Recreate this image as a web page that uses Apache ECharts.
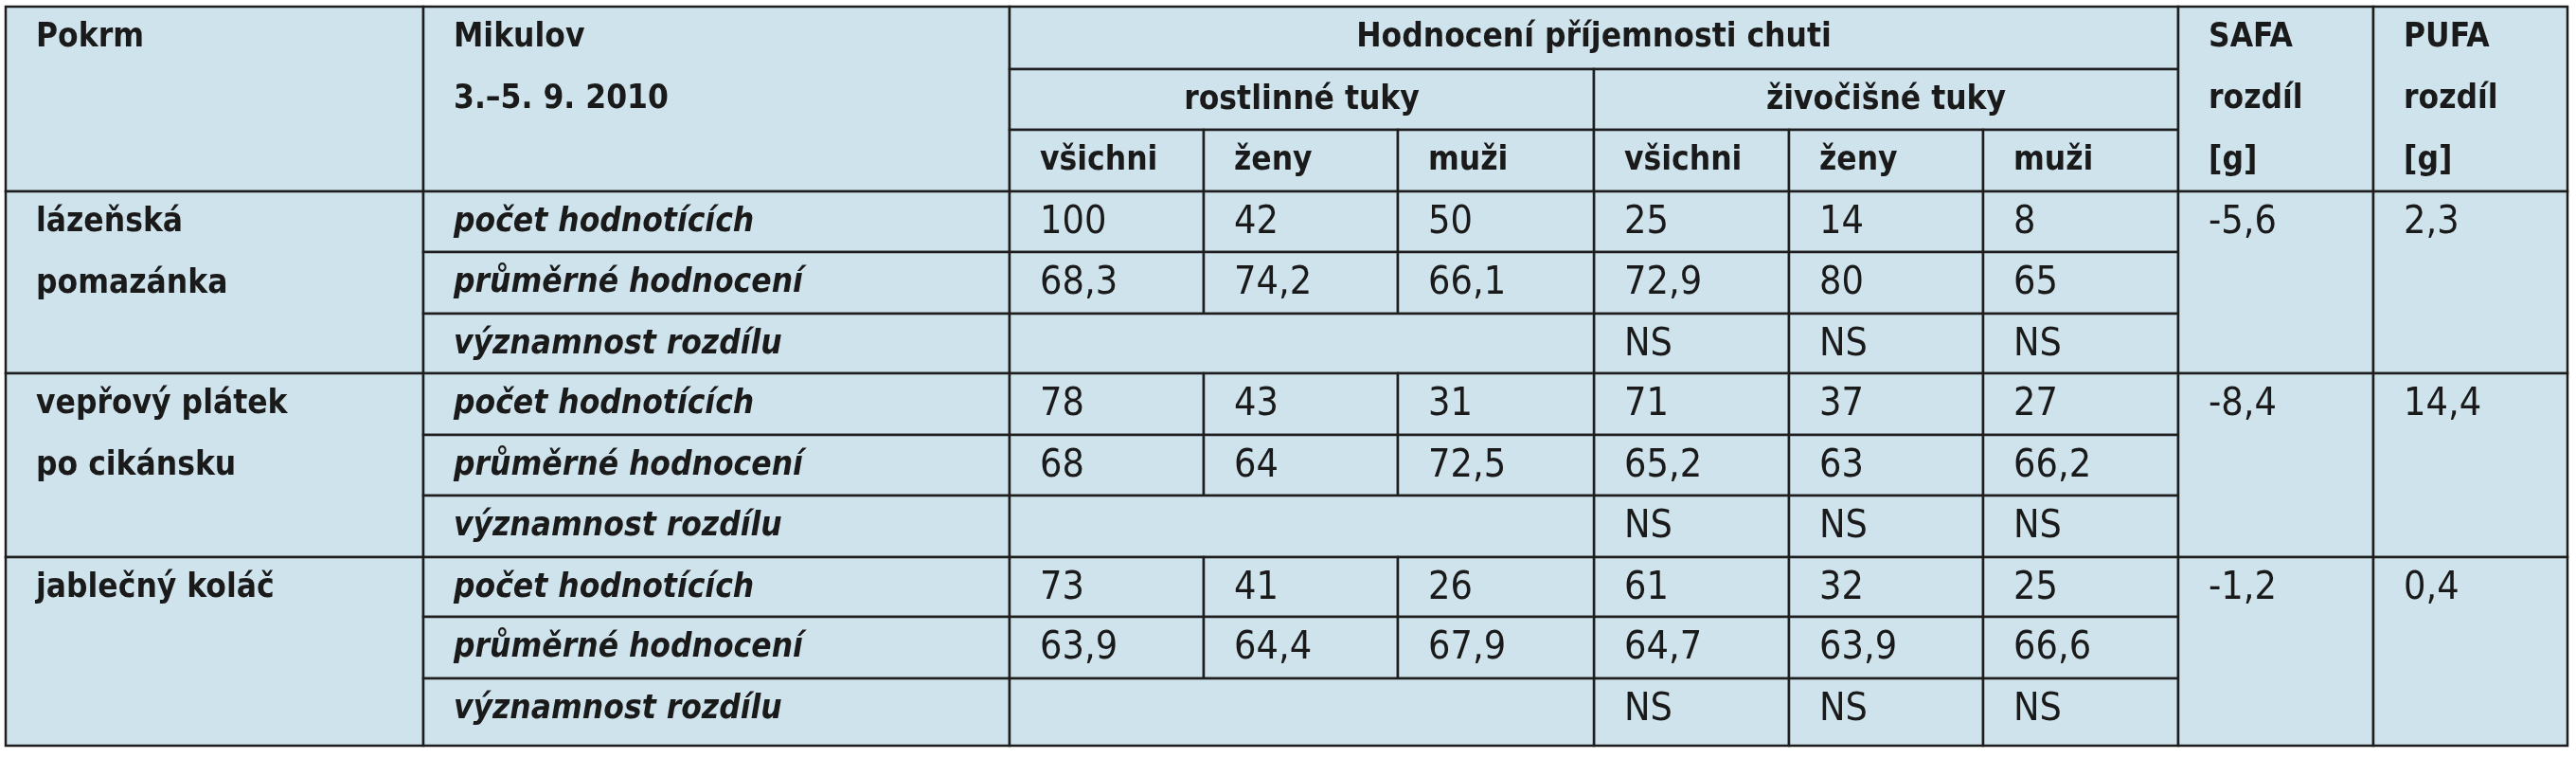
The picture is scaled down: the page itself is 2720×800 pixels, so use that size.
<!DOCTYPE html>
<html><head><meta charset="utf-8">
<script src="https://cdn.jsdelivr.net/npm/echarts@6/dist/echarts.min.js"></script>
<style>html,body{margin:0;padding:0;background:#fff}#c{width:2720px;height:800px}</style>
</head><body><div id="c"></div>
<script>
const dishes = [['lázeňská','pomazánka'],['vepřový plátek','po cikánsku'],['jablečný koláč','']];
const rowLabels = ['počet hodnotících','průměrné hodnocení','významnost rozdílu'];
const fatGroups = ['rostlinné tuky','živočišné tuky'];
const genders = ['všichni','ženy','muži'];
const plantCounts = [[100,42,50],[78,43,31],[73,41,26]];
const plantMeans = [['68,3','74,2','66,1'],['68','64','72,5'],['63,9','64,4','67,9']];
const animalCounts = [[25,14,8],[71,37,27],[61,32,25]];
const animalMeans = [['72,9','80','65'],['65,2','63','66,2'],['64,7','63,9','66,6']];
const significance = [['NS','NS','NS'],['NS','NS','NS'],['NS','NS','NS']];
const safa = ['-5,6','-8,4','-1,2'];
const pufa = ['2,3','14,4','0,4'];

// layout
const X = [6,447,1066,1271,1476,1683,1889,2094,2300,2506,2711];
const Y = [7,73,137,202,266,331,394,459,523,588,651,716,787];
const BOLD='bold', F='DejaVu Sans Condensed';
const cells=[];
function cell(c0,c1,r0,r1,lines,align,weight,style){cells.push([X[c0],X[c1],Y[r0],Y[r1],lines,align||'left',weight||'normal',style||'normal']);}
cell(0,1,0,3,['Pokrm'],'left',BOLD);
cell(1,2,0,3,['Mikulov','3.–5. 9. 2010'],'left',BOLD);
cell(2,8,0,1,['Hodnocení příjemnosti chuti'],'center',BOLD);
cell(2,5,1,2,[fatGroups[0]],'center',BOLD);
cell(5,8,1,2,[fatGroups[1]],'center',BOLD);
for(let g=0;g<2;g++)for(let k=0;k<3;k++)cell(2+g*3+k,3+g*3+k,2,3,[genders[k]],'left',BOLD);
cell(8,9,0,3,['SAFA','rozdíl','[g]'],'left',BOLD);
cell(9,10,0,3,['PUFA','rozdíl','[g]'],'left',BOLD);
for(let d=0;d<3;d++){
  const r=3+d*3;
  cell(0,1,r,r+3,dishes[d].filter(s=>s),'left',BOLD);
  for(let j=0;j<3;j++)cell(1,2,r+j,r+j+1,[rowLabels[j]],'left',BOLD,'italic');
  for(let k=0;k<3;k++){
    cell(2+k,3+k,r,r+1,[String(plantCounts[d][k])]);
    cell(2+k,3+k,r+1,r+2,[plantMeans[d][k]]);
    cell(5+k,6+k,r,r+1,[String(animalCounts[d][k])]);
    cell(5+k,6+k,r+1,r+2,[animalMeans[d][k]]);
    cell(5+k,6+k,r+2,r+3,[significance[d][k]]);
  }
  cell(2,5,r+2,r+3,['']);
  cell(8,9,r,r+3,[safa[d]]);
  cell(9,10,r,r+3,[pufa[d]]);
}
const ROWH=64.6;
const chart=echarts.init(document.getElementById('c'));
chart.setOption({
  animation:false,
  grid:{left:0,right:0,top:0,bottom:0},
  xAxis:{type:'value',min:0,max:2720,show:false},
  yAxis:{type:'value',min:0,max:800,inverse:true,show:false},
  series:[{type:'custom',data:cells,renderItem:function(params,api){
    const c=cells[params.dataIndex];
    const p0=api.coord([c[0],c[2]]),p1=api.coord([c[1],c[3]]);
    const children=[{type:'rect',shape:{x:p0[0],y:p0[1],width:p1[0]-p0[0],height:p1[1]-p0[1]},
      style:{fill:'#cfe3ec',stroke:'#1e1e1e',lineWidth:2.5}}];
    c[4].forEach((t,i)=>{
      const bold=c[6]==='bold';
      children.push({type:'text',style:{text:t,x:c[5]==='center'?(p0[0]+p1[0])/2:p0[0]+32,
        y:p0[1]+ROWH*(i+0.5)+1,align:c[5],verticalAlign:'middle',
        font:(c[7]==='italic'?'italic ':'')+(bold?'bold 35px ':'41px ')+F,fill:'#1a1a1a'}});
    });
    return {type:'group',children};
  }}]
});
</script></body></html>
